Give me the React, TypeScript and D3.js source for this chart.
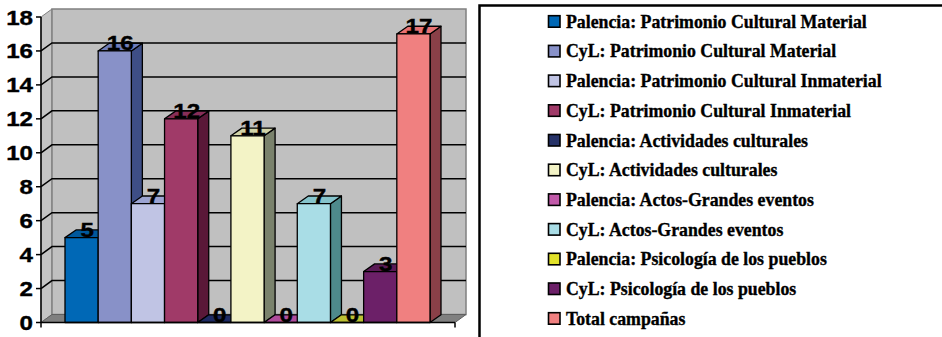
import React from "react";
import * as d3 from "d3";

const categories = [
  "Palencia: Patrimonio Cultural Material",
  "CyL: Patrimonio Cultural Material",
  "Palencia: Patrimonio Cultural Inmaterial",
  "CyL: Patrimonio Cultural Inmaterial",
  "Palencia: Actividades culturales",
  "CyL: Actividades culturales",
  "Palencia: Actos-Grandes eventos",
  "CyL: Actos-Grandes eventos",
  "Palencia: Psicología de los pueblos",
  "CyL: Psicología de los pueblos",
  "Total campañas",
];
const values = [5, 16, 7, 12, 0, 11, 0, 7, 0, 3, 17];
const frontColors = ["#0068B6", "#8891C8", "#C0C4E4", "#A03A68", "#263268", "#F3F3C6", "#C25AAA", "#A9DDE6", "#E2E22A", "#6C2068", "#F08080"];
const topColors = ["#00589C", "#6F7DBA", "#9CA4D2", "#882E58", "#1E2A62", "#D2D4A8", "#B04C9C", "#86C4CC", "#BCC032", "#5A1A56", "#E87272"];
const sideColors = ["#003E70", "#3E4E86", "#6A72A0", "#5A1838", "#141C40", "#7A826C", "#7A2E6A", "#4E8A8C", "#7A7A18", "#3C0E3A", "#8A4048"];
const yTicks = [0, 2, 4, 6, 8, 10, 12, 14, 16, 18];

export default function App() {
  const W = 942, H = 337;
  const x0 = 41, x1 = 455;
  const y = d3.scaleLinear().domain([0, 18]).range([322.5, 17]);
  const x = d3.scaleBand<string>().domain(categories).range([65, 430]).paddingInner(0).paddingOuter(0);
  const ddx = 11, ddy = -8;
  const bdx = 11, bdy = -7.7;
  const bw = x.bandwidth();
  const yb = y(0);
  const pts = (a: number[][]) => a.map((p) => p.join(",")).join(" ");
  const labelFont = "Liberation Sans";
  const legendFont = "Liberation Serif";

  return (
    <svg width={W} height={H} style={{ position: "absolute", left: 0, top: 0, background: "#fff" }}>
      {/* left wall */}
      <polygon points={pts([[x0, y(18)], [x0 + ddx, y(18) + ddy], [x0 + ddx, yb + ddy], [x0, yb]])} fill="#C4C4C4" stroke="#808080" strokeWidth={1} />
      {/* back wall */}
      <rect x={x0 + ddx} y={y(18) + ddy} width={x1 - x0} height={yb - y(18)} fill="#C0C0C0" stroke="#808080" strokeWidth={1.5} />
      {/* floor */}
      <polygon points={pts([[x0, yb], [x0 + ddx, yb + ddy], [x1 + ddx, yb + ddy], [x1, yb]])} fill="#808080" stroke="#606060" strokeWidth={1} />
      {/* gridlines */}
      {yTicks.filter((t) => t > 0 && t < 18).map((t) => (
        <polyline key={t} points={pts([[x0, y(t)], [x0 + ddx, y(t) + ddy], [x1 + ddx, y(t) + ddy]])} fill="none" stroke="#000" strokeWidth={1.5} />
      ))}
      {/* bars */}
      {categories.map((c, i) => {
        const bx0 = x(c)!;
        const bx1 = bx0 + bw;
        const yt = y(values[i]);
        return (
          <g key={c} stroke="#000" strokeWidth={1.3} strokeLinejoin="round">
            {values[i] > 0 && (
              <polygon points={pts([[bx1, yt], [bx1 + bdx, yt + bdy], [bx1 + bdx, yb + bdy], [bx1, yb]])} fill={sideColors[i]} />
            )}
            <polygon points={pts([[bx0, yt], [bx0 + bdx, yt + bdy], [bx1 + bdx, yt + bdy], [bx1, yt]])} fill={topColors[i]} />
            {values[i] > 0 && <rect x={bx0} y={yt} width={bw} height={yb - yt} fill={frontColors[i]} />}
          </g>
        );
      })}
      {/* value labels */}
      {categories.map((c, i) => {
        const cx = x(c)! + bw / 2 + bdx / 2;
        const yt = y(values[i]);
        return (
          <text key={c} transform={`translate(${cx},${yt - 1}) scale(1.15,1)`} textAnchor="middle" fontFamily={labelFont} fontWeight="bold" fontSize={21} fill="#000" stroke="#000" strokeWidth={0.4}>
            {values[i]}
          </text>
        );
      })}
      {/* axes */}
      <line x1={x0} y1={y(18)} x2={x0} y2={yb} stroke="#000" strokeWidth={1.5} />
      {yTicks.map((t) => (
        <g key={t}>
          <line x1={x0 - 5} y1={y(t)} x2={x0} y2={y(t)} stroke="#000" strokeWidth={1.5} />
          <text transform={`translate(${33},${y(t) + 7.5}) scale(1.15,1)`} textAnchor="end" fontFamily={labelFont} fontWeight="bold" fontSize={21} fill="#000" stroke="#000" strokeWidth={0.4}>
            {t}
          </text>
        </g>
      ))}
      <line x1={x0} y1={yb} x2={x1} y2={yb} stroke="#000" strokeWidth={1.5} />
      <line x1={x0} y1={yb} x2={x0} y2={yb + 5} stroke="#000" strokeWidth={1.5} />
      <line x1={x1} y1={yb} x2={x1} y2={yb + 5} stroke="#000" strokeWidth={1.5} />
      {/* legend */}
      <polyline points={pts([[W + 5, 5.5], [479.5, 5.5], [479.5, H + 5]])} fill="none" stroke="#000" strokeWidth={2.5} />
      {categories.map((c, i) => {
        const cy = 21.7 + i * 29.7;
        return (
          <g key={c}>
            <rect x={548.5} y={cy - 6} width={11.5} height={11.5} fill={frontColors[i]} stroke="#000" strokeWidth={1.6} />
            <text x={566} y={cy + 6} fontFamily={legendFont} fontWeight="bold" fontSize={17.8} fill="#000" stroke="#000" strokeWidth={0.35}>
              {c}
            </text>
          </g>
        );
      })}
    </svg>
  );
}
